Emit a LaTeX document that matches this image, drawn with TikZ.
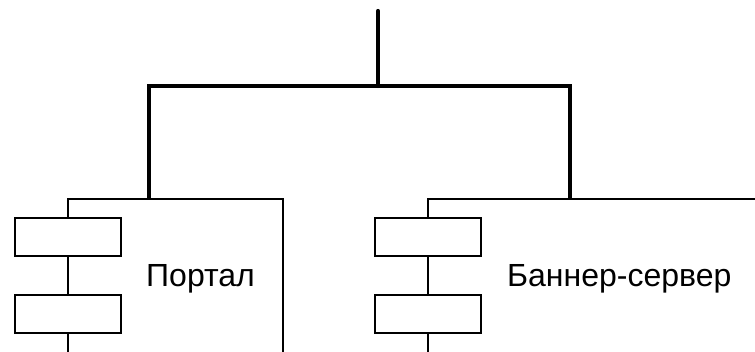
\documentclass[tikz,border=0pt]{standalone}
\usepackage{fontspec}
\setmainfont{Liberation Sans}
\begin{document}
\begin{tikzpicture}[x=1pt,y=-1pt,
  heavy/.style={line width=4.2pt},
  light/.style={line width=2.2pt},
  blk/.style={draw, line width=2.2pt, minimum width=106pt, minimum height=38pt, inner sep=0pt},
  lbl/.style={font=\fontsize{32}{38}\selectfont, anchor=base west, inner sep=0pt}]
\useasboundingbox (0,0) rectangle (755,351);
% trunk
\coordinate (top) at (378,11);
\coordinate (hub) at (378,86);
\coordinate (bl) at (149,86);
\coordinate (br) at (570,86);
\coordinate (jl) at (149,199);
\coordinate (jr) at (570,199);
% left group
\coordinate (cl) at (68,199);
\coordinate (el) at (283,199);
\coordinate (eld) at (283,352);
\node[blk] (a1) at (68,237) {};
\node[blk] (a2) at (68,314) {};
\coordinate (a3) at (68,352);
\node[lbl] (pl) at (146,286) {Портал};
% right group
\coordinate (cr) at (428,199);
\coordinate (er) at (756,199);
\node[blk] (b1) at (428,237) {};
\node[blk] (b2) at (428,314) {};
\coordinate (b3) at (428,352);
\node[lbl] (pr) at (507,286) {Баннер-сервер};
% connectors
\draw[heavy, line cap=round] (top) -- (hub);
\draw[heavy] (jl) -- (bl) -- (br) -- (jr);
\draw[light] (a1.north) -- (cl) -- (el) -- (eld);
\draw[light] (a1.south) -- (a2.north);
\draw[light] (a2.south) -- (a3);
\draw[light] (b1.north) -- (cr) -- (er);
\draw[light] (b1.south) -- (b2.north);
\draw[light] (b2.south) -- (b3);
\end{tikzpicture}
\end{document}
